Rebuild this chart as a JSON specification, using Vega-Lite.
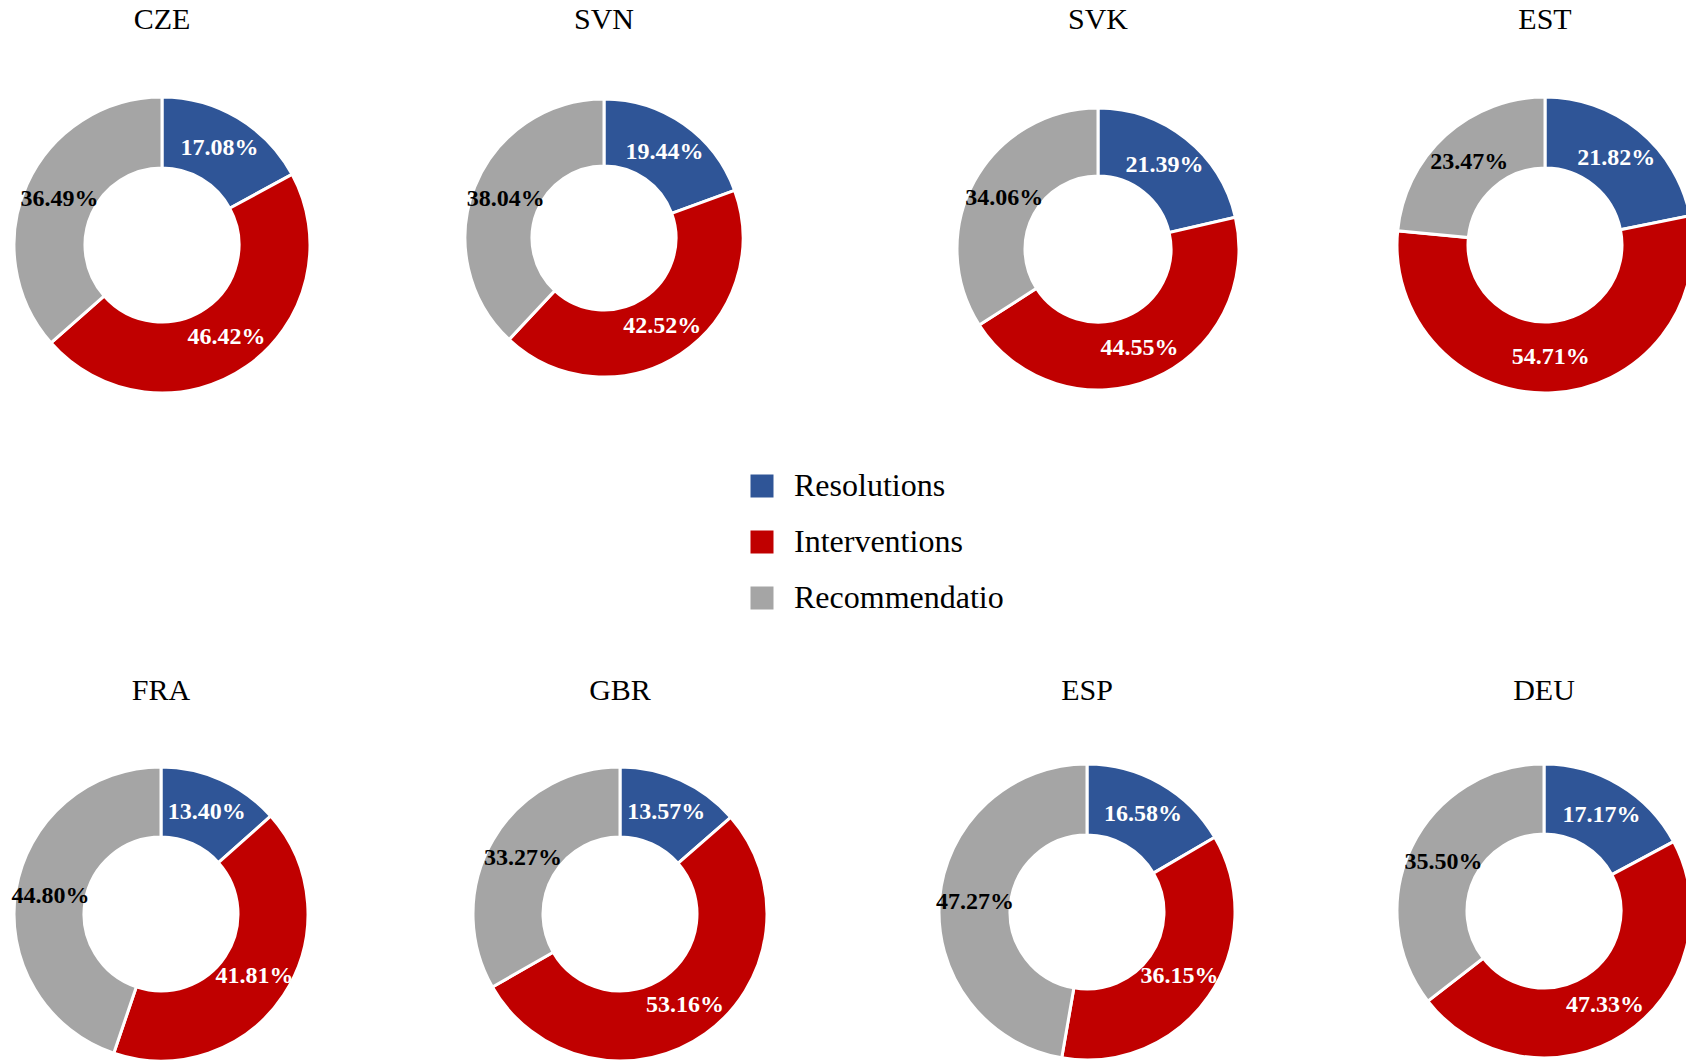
{
  "$schema": "https://vega.github.io/schema/vega-lite/v6.json",
  "padding": {"top": 5, "left": 0, "right": 0, "bottom": 0},
  "background": "white",
  "data": {"values": [
    {"country": "CZE", "category": "Resolutions", "share": 0.1708},
    {"country": "CZE", "category": "Interventions", "share": 0.4642},
    {"country": "CZE", "category": "Recommendatio", "share": 0.3649},
    {"country": "SVN", "category": "Resolutions", "share": 0.1944},
    {"country": "SVN", "category": "Interventions", "share": 0.4252},
    {"country": "SVN", "category": "Recommendatio", "share": 0.3804},
    {"country": "SVK", "category": "Resolutions", "share": 0.2139},
    {"country": "SVK", "category": "Interventions", "share": 0.4455},
    {"country": "SVK", "category": "Recommendatio", "share": 0.3406},
    {"country": "EST", "category": "Resolutions", "share": 0.2182},
    {"country": "EST", "category": "Interventions", "share": 0.5471},
    {"country": "EST", "category": "Recommendatio", "share": 0.2347},
    {"country": "FRA", "category": "Resolutions", "share": 0.1340},
    {"country": "FRA", "category": "Interventions", "share": 0.4181},
    {"country": "FRA", "category": "Recommendatio", "share": 0.4480},
    {"country": "GBR", "category": "Resolutions", "share": 0.1357},
    {"country": "GBR", "category": "Interventions", "share": 0.5316},
    {"country": "GBR", "category": "Recommendatio", "share": 0.3327},
    {"country": "ESP", "category": "Resolutions", "share": 0.1658},
    {"country": "ESP", "category": "Interventions", "share": 0.3615},
    {"country": "ESP", "category": "Recommendatio", "share": 0.4727},
    {"country": "DEU", "category": "Resolutions", "share": 0.1717},
    {"country": "DEU", "category": "Interventions", "share": 0.4733},
    {"country": "DEU", "category": "Recommendatio", "share": 0.3550}
  ]},
  "transform": [{"calculate": "indexof(['Resolutions','Interventions','Recommendatio'], datum.category)", "as": "ord"}],
  "spacing": 225,
  "vconcat": [
    {
      "spacing": 0,
      "align": "each",
      "hconcat": [
        {
          "title": "CZE", "width": 324, "height": 396,
          "transform": [{"filter": "datum.country == 'CZE'"}],
          "encoding": {"theta": {"field": "share", "type": "quantitative", "stack": true}, "order": {"field": "ord", "type": "quantitative"}},
          "layer": [
            {"mark": {"type": "arc", "outerRadius": 148, "innerRadius": 77, "stroke": "white", "strokeWidth": 3},
             "encoding": {"color": {"field": "category", "type": "nominal", "sort": ["Resolutions", "Interventions", "Recommendatio"], "scale": {"domain": ["Resolutions", "Interventions", "Recommendatio"], "range": ["#2F5597", "#C00000", "#A5A5A5"]}}}},
            {"mark": {"type": "text", "radius": 112.5, "font": "Liberation Serif", "fontWeight": "bold", "fontSize": 24},
             "encoding": {"text": {"field": "share", "format": ".2%"}, "color": {"condition": {"test": "datum.category == 'Recommendatio'", "value": "black"}, "value": "white"}}}
          ]
        },
        {
          "title": "SVN", "width": 560, "height": 382,
          "transform": [{"filter": "datum.country == 'SVN'"}],
          "encoding": {"theta": {"field": "share", "type": "quantitative", "stack": true}, "order": {"field": "ord", "type": "quantitative"}},
          "layer": [
            {"mark": {"type": "arc", "outerRadius": 139, "innerRadius": 72, "stroke": "white", "strokeWidth": 3},
             "encoding": {"color": {"field": "category", "type": "nominal", "sort": ["Resolutions", "Interventions", "Recommendatio"], "scale": {"domain": ["Resolutions", "Interventions", "Recommendatio"], "range": ["#2F5597", "#C00000", "#A5A5A5"]}}}},
            {"mark": {"type": "text", "radius": 105.5, "font": "Liberation Serif", "fontWeight": "bold", "fontSize": 24},
             "encoding": {"text": {"field": "share", "format": ".2%"}, "color": {"condition": {"test": "datum.category == 'Recommendatio'", "value": "black"}, "value": "white"}}}
          ]
        },
        {
          "title": "SVK", "width": 428, "height": 404,
          "transform": [{"filter": "datum.country == 'SVK'"}],
          "encoding": {"theta": {"field": "share", "type": "quantitative", "stack": true}, "order": {"field": "ord", "type": "quantitative"}},
          "layer": [
            {"mark": {"type": "arc", "outerRadius": 141, "innerRadius": 73, "stroke": "white", "strokeWidth": 3},
             "encoding": {"color": {"field": "category", "type": "nominal", "sort": ["Resolutions", "Interventions", "Recommendatio"], "scale": {"domain": ["Resolutions", "Interventions", "Recommendatio"], "range": ["#2F5597", "#C00000", "#A5A5A5"]}}}},
            {"mark": {"type": "text", "radius": 107, "font": "Liberation Serif", "fontWeight": "bold", "fontSize": 24},
             "encoding": {"text": {"field": "share", "format": ".2%"}, "color": {"condition": {"test": "datum.category == 'Recommendatio'", "value": "black"}, "value": "white"}}}
          ]
        },
        {
          "title": "EST", "width": 466, "height": 396,
          "transform": [{"filter": "datum.country == 'EST'"}],
          "encoding": {"theta": {"field": "share", "type": "quantitative", "stack": true}, "order": {"field": "ord", "type": "quantitative"}},
          "layer": [
            {"mark": {"type": "arc", "outerRadius": 148, "innerRadius": 77, "stroke": "white", "strokeWidth": 3},
             "encoding": {"color": {"field": "category", "type": "nominal", "sort": ["Resolutions", "Interventions", "Recommendatio"], "scale": {"domain": ["Resolutions", "Interventions", "Recommendatio"], "range": ["#2F5597", "#C00000", "#A5A5A5"]}}}},
            {"mark": {"type": "text", "radius": 112.5, "font": "Liberation Serif", "fontWeight": "bold", "fontSize": 24},
             "encoding": {"text": {"field": "share", "format": ".2%"}, "color": {"condition": {"test": "datum.category == 'Recommendatio'", "value": "black"}, "value": "white"}}}
          ]
        }
      ]
    },
    {
      "spacing": 0,
      "align": "each",
      "hconcat": [
        {
          "title": {"text": "FRA", "offset": 10}, "width": 322, "height": 396,
          "transform": [{"filter": "datum.country == 'FRA'"}],
          "encoding": {"theta": {"field": "share", "type": "quantitative", "stack": true}, "order": {"field": "ord", "type": "quantitative"}},
          "layer": [
            {"mark": {"type": "arc", "outerRadius": 147, "innerRadius": 77, "stroke": "white", "strokeWidth": 3},
             "encoding": {"color": {"field": "category", "type": "nominal", "sort": ["Resolutions", "Interventions", "Recommendatio"], "scale": {"domain": ["Resolutions", "Interventions", "Recommendatio"], "range": ["#2F5597", "#C00000", "#A5A5A5"]}}}},
            {"mark": {"type": "text", "radius": 112, "font": "Liberation Serif", "fontWeight": "bold", "fontSize": 24},
             "encoding": {"text": {"field": "share", "format": ".2%"}, "color": {"condition": {"test": "datum.category == 'Recommendatio'", "value": "black"}, "value": "white"}}}
          ]
        },
        {
          "title": {"text": "GBR", "offset": 10}, "width": 596, "height": 396,
          "transform": [{"filter": "datum.country == 'GBR'"}],
          "encoding": {"theta": {"field": "share", "type": "quantitative", "stack": true}, "order": {"field": "ord", "type": "quantitative"}},
          "layer": [
            {"mark": {"type": "arc", "outerRadius": 147, "innerRadius": 77, "stroke": "white", "strokeWidth": 3},
             "encoding": {"color": {"field": "category", "type": "nominal", "sort": ["Resolutions", "Interventions", "Recommendatio"], "scale": {"domain": ["Resolutions", "Interventions", "Recommendatio"], "range": ["#2F5597", "#C00000", "#A5A5A5"]}}}},
            {"mark": {"type": "text", "radius": 112, "font": "Liberation Serif", "fontWeight": "bold", "fontSize": 24},
             "encoding": {"text": {"field": "share", "format": ".2%"}, "color": {"condition": {"test": "datum.category == 'Recommendatio'", "value": "black"}, "value": "white"}}}
          ]
        },
        {
          "title": {"text": "ESP", "offset": 10}, "width": 338, "height": 392,
          "transform": [{"filter": "datum.country == 'ESP'"}],
          "encoding": {"theta": {"field": "share", "type": "quantitative", "stack": true}, "order": {"field": "ord", "type": "quantitative"}},
          "layer": [
            {"mark": {"type": "arc", "outerRadius": 148, "innerRadius": 77, "stroke": "white", "strokeWidth": 3},
             "encoding": {"color": {"field": "category", "type": "nominal", "sort": ["Resolutions", "Interventions", "Recommendatio"], "scale": {"domain": ["Resolutions", "Interventions", "Recommendatio"], "range": ["#2F5597", "#C00000", "#A5A5A5"]}}}},
            {"mark": {"type": "text", "radius": 112.5, "font": "Liberation Serif", "fontWeight": "bold", "fontSize": 24},
             "encoding": {"text": {"field": "share", "format": ".2%"}, "color": {"condition": {"test": "datum.category == 'Recommendatio'", "value": "black"}, "value": "white"}}}
          ]
        },
        {
          "title": {"text": "DEU", "offset": 10}, "width": 576, "height": 390,
          "transform": [{"filter": "datum.country == 'DEU'"}],
          "encoding": {"theta": {"field": "share", "type": "quantitative", "stack": true}, "order": {"field": "ord", "type": "quantitative"}},
          "layer": [
            {"mark": {"type": "arc", "outerRadius": 147, "innerRadius": 77, "stroke": "white", "strokeWidth": 3},
             "encoding": {"color": {"field": "category", "type": "nominal", "sort": ["Resolutions", "Interventions", "Recommendatio"], "scale": {"domain": ["Resolutions", "Interventions", "Recommendatio"], "range": ["#2F5597", "#C00000", "#A5A5A5"]}}}},
            {"mark": {"type": "text", "radius": 112, "font": "Liberation Serif", "fontWeight": "bold", "fontSize": 24},
             "encoding": {"text": {"field": "share", "format": ".2%"}, "color": {"condition": {"test": "datum.category == 'Recommendatio'", "value": "black"}, "value": "white"}}}
          ]
        }
      ]
    }
  ],
  "config": {
    "view": {"stroke": null},
    "font": "Liberation Serif",
    "title": {"font": "Liberation Serif", "fontSize": 30, "fontWeight": "normal", "color": "black", "offset": 12},
    "legend": {
      "orient": "none", "legendX": 746, "legendY": 423,
      "title": null, "padding": 0,
      "symbolType": "square", "symbolSize": 529, "symbolStrokeWidth": 0, "symbolOpacity": 1,
      "labelFont": "Liberation Serif", "labelFontSize": 32, "labelColor": "black", "labelOffset": 16,
      "rowPadding": 24, "labelLimit": 400
    }
  }
}
